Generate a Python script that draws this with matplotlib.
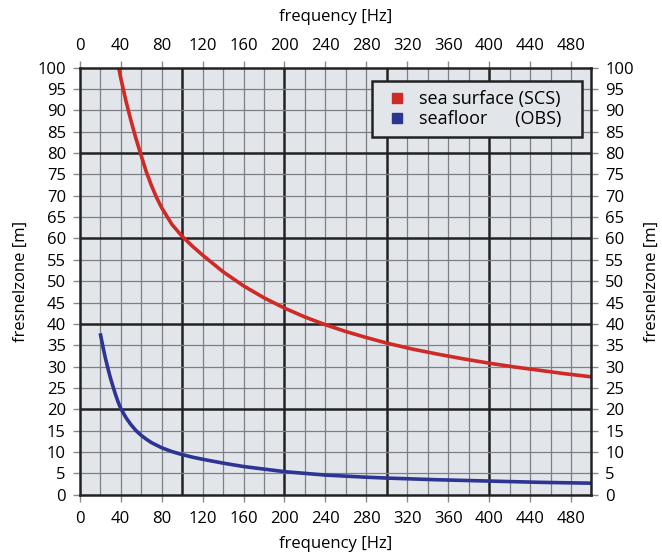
import numpy as np
import matplotlib
matplotlib.use("Agg")
import matplotlib.pyplot as plt

plt.rcParams['font.family'] = ['Open Sans', 'DejaVu Sans']

# fresnel zone radius vs frequency
f_scs = [38, 40, 45, 50, 55, 60, 65, 70, 75, 80, 90, 100, 110, 120, 140, 160,
         180, 200, 220, 240, 260, 280, 300, 325, 350, 375, 400, 425, 450, 475, 500]
r_scs = [100, 97.6, 92.3, 87.6, 83.3, 79.4, 75.6, 72.4, 69.6, 67.2, 63.3, 60.5,
         58.2, 56.1, 52.2, 48.9, 46.1, 43.7, 41.6, 39.8, 38.2, 36.8, 35.5, 34.1,
         32.9, 31.8, 30.8, 29.9, 29.1, 28.3, 27.6]

f_obs = [20, 22.5, 25, 27.5, 30, 32.5, 35, 37.5, 40, 45, 50, 55, 60, 65, 70, 80,
         90, 100, 110, 120, 140, 160, 180, 200, 220, 240, 280, 300, 350, 400,
         450, 500]
r_obs = [37.8, 34.8, 32.0, 29.6, 27.3, 25.3, 23.4, 21.7, 20.2, 18.1, 16.4, 15.0,
         13.9, 13.0, 12.2, 11.0, 10.1, 9.4, 8.8, 8.3, 7.4, 6.6, 6.0, 5.4, 5.0,
         4.6, 4.1, 3.9, 3.5, 3.2, 2.9, 2.7]

xticks = np.arange(0, 481, 40)
yticks = np.arange(0, 101, 5)

red = '#d02a26'
blue = '#2c3594'
bg = '#e2e5ea'

fig = plt.figure(figsize=(6.62, 5.54), dpi=100)
ax = fig.add_axes([0.1205, 0.107, 0.773, 0.771])
ax.set_facecolor(bg)
ax.set_xlim(0, 500)
ax.set_ylim(0, 100)

# grid: thin every 20 Hz / 5 m, heavy every 100 Hz / 20 m
for x in np.arange(20, 500, 20):
    heavy = x % 100 == 0
    ax.axvline(x, color='#222222' if heavy else '#7d7f84',
               lw=1.8 if heavy else 0.9, zorder=1)
for y in np.arange(5, 100, 5):
    heavy = y % 20 == 0
    ax.axhline(y, color='#222222' if heavy else '#7d7f84',
               lw=1.8 if heavy else 0.9, zorder=1)

ax.plot(f_scs, r_scs, color=red, lw=2.6, zorder=3, solid_capstyle='butt')
ax.plot(f_obs, r_obs, color=blue, lw=2.6, zorder=3, solid_capstyle='butt')

for s in ax.spines.values():
    s.set_linewidth(1.8)
    s.set_color('#222222')
    s.set_zorder(4)

fs = 12
tick_kw = dict(direction='out', length=5, width=1, color='#8a8a8a', labelsize=fs)
ax.set_xticks(xticks)
ax.set_yticks(yticks)
ax.tick_params(axis='x', pad=7, **tick_kw)
ax.tick_params(axis='y', pad=5, **tick_kw)
ax.set_xlabel('frequency [Hz]', fontsize=fs, labelpad=6)
ax.set_ylabel('fresnelzone [m]', fontsize=fs, labelpad=6)

top = ax.secondary_xaxis('top')
top.set_xticks(xticks)
top.tick_params(pad=5, **tick_kw)
top.set_xlabel('frequency [Hz]', fontsize=fs, labelpad=12)
top.spines['top'].set_visible(False)

right = ax.secondary_yaxis('right')
right.set_yticks(yticks)
right.tick_params(pad=5, **tick_kw)
right.set_ylabel('fresnelzone [m]', fontsize=fs, labelpad=7, rotation=90)
right.spines['right'].set_visible(False)

# legend with square markers
h1, = ax.plot([], [], 's', color=red, ms=7)
h2, = ax.plot([], [], 's', color=blue, ms=7)
leg = ax.legend([h1, h2], ['sea surface (SCS)', 'seafloor      (OBS)'],
                loc='upper left', bbox_to_anchor=(0.571, 0.837, 0.41, 0.131),
                mode='expand', fontsize=13, frameon=True, fancybox=False,
                handlelength=1.8, handletextpad=0.3, borderpad=0.5,
                labelspacing=0.1, borderaxespad=0)
leg.get_frame().set_facecolor(bg)
leg.get_frame().set_edgecolor('#222222')
leg.get_frame().set_linewidth(1.8)
leg.get_frame().set_alpha(1)
leg.set_zorder(5)

fig.savefig('out.png', dpi=100)
